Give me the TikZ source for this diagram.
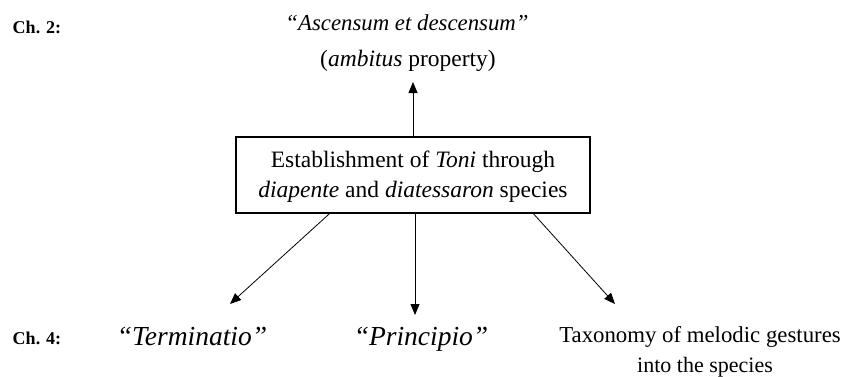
\documentclass[tikz,border=0pt]{standalone}
\usepackage{fontspec}
\setmainfont{Liberation Serif}
\usetikzlibrary{arrows.meta}
\begin{document}
\begin{tikzpicture}[x=1pt,y=-1pt,
  chlab/.style={font=\fontsize{18}{20}\selectfont\bfseries, inner sep=0pt, anchor=base},
  txt/.style={font=\fontsize{23.5}{28}\selectfont, inner sep=0pt, anchor=base},
  bigtxt/.style={font=\fontsize{27.5}{32}\selectfont\itshape, inner sep=0pt, anchor=base},
  conn/.style={-{Triangle[length=11pt,width=9pt]}, line width=0.8pt}]
\useasboundingbox (0,0) rectangle (845,376);
\node[chlab] (ch2) at (37,33) {Ch. 2:};
\node[chlab] (ch4) at (37,344) {Ch. 4:};
\node[txt, font=\fontsize{22.8}{28}\selectfont] (top1) at (407,30) {\textit{``Ascensum et descensum''}};
\node[txt] (top2) at (408,66) {(\textit{ambitus} property)};
\draw[line width=1.3pt] (236,137) rectangle (590,213);
\node[inner sep=0pt, minimum width=354pt, minimum height=76pt] (box) at (413,175) {};
\node[txt] (b1) at (413,167) {Establishment of \textit{Toni} through};
\node[txt] (b2) at (413,197) {\textit{diapente} and \textit{diatessaron} species};
\node[bigtxt] (term) at (192,345) {``Terminatio''};
\node[bigtxt] (prin) at (421,345) {``Principio''};
\node[txt, font=\fontsize{22.8}{28}\selectfont] (tax1) at (700,342) {Taxonomy of melodic gestures};
\node[txt, font=\fontsize{22}{28}\selectfont] (tax2) at (705,372) {into the species};
\coordinate (upend) at (413,82);
\coordinate (lend) at (230,304);
\coordinate (mend) at (415,315);
\coordinate (rend) at (615,304);
\draw[conn] (box.north) -- (upend);
\draw[conn] (box.south -| 330,0) -- (lend);
\draw[conn] (box.south -| 415,0) -- (mend);
\draw[conn] (box.south -| 533,0) -- (rend);
\end{tikzpicture}
\end{document}
